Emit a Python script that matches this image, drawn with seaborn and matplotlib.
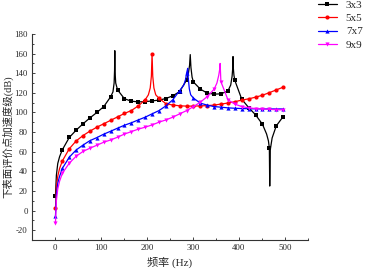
import numpy as np
import pandas as pd
import matplotlib
matplotlib.use("Agg")
import matplotlib.pyplot as plt
import seaborn as sns

sns.set_theme(style="ticks")
plt.rcParams['font.family'] = ['Liberation Serif', 'Noto Sans CJK SC', 'DejaVu Sans']
plt.rcParams['axes.unicode_minus'] = False

# ---- data ----
marker_freq = [1, 16, 31, 46, 61, 76, 91, 106, 121, 136, 151, 166, 181, 196, 211, 226, 241,
               256, 271, 286, 301, 316, 331, 346, 361, 376, 391, 406, 421, 436, 451, 466, 481, 496]

db_3x3 = [15, 62, 74.5, 82, 88.5, 94.5, 100, 106, 116, 123, 114, 111.5, 110.8, 111, 111.8, 112.6, 114.2,
          117, 121.3, 133, 131, 123.8, 119.7, 118.7, 119, 122, 132.6, 113.5, 105, 97.6, 88, 63.6, 86.3, 95.8]
db_5x5 = [2.3, 50.6, 63, 71, 76.5, 81, 85, 88.5, 92, 95.5, 99, 102, 106.7, 112.9, 159.8, 114.5, 109,
          107.6, 106.8, 106.5, 106.5, 106.7, 107, 107.5, 108.6, 109.6, 111, 112.6, 113.9, 115.6, 117.6, 120.2, 123, 125.8]
db_7x7 = [-5.8, 43, 54.4, 61.8, 66.8, 71.3, 74.4, 77.9, 80.9, 84, 87, 89.5, 92.4, 95.2, 98.6, 101.9, 106.7,
          112.9, 122.3, 140, 114.6, 109.5, 107.5, 106, 105.4, 104.7, 104.3, 104, 103.8, 103.7, 103.6, 103.6, 103.6, 103.6]
db_9x9 = [-12.3, 38, 48.3, 55.4, 60.3, 63.6, 66.6, 69.7, 72, 74.8, 78, 80.5, 83, 85, 87.3, 90.1, 92.4,
          95.2, 98.6, 101.9, 106, 110.5, 116.2, 123.8, 131, 112.9, 108.5, 106, 104.7, 104, 103.6, 103.2, 102.8, 102.7]

# extra line-only points (steep rise at low frequency, resonance peaks, anti-resonance)
extra_f_3x3 = [3, 6, 10, 126, 128.5, 129.5, 130, 130.5, 132, 290, 292.5, 294, 295.5, 298,
               382, 385, 386.5, 387, 387.5, 389, 460, 464, 466.8, 468, 472]
extra_db_3x3 = [36, 48, 55, 121, 130, 143, 163, 142, 130, 140, 148, 159, 146, 136,
                128, 137, 146, 157, 146, 138, 78, 71, 25, 62, 74]
extra_f_5x5 = [3, 6, 10, 203, 207, 209.5, 212.5, 215, 219]
extra_db_5x5 = [24, 35, 43, 118, 125, 137, 137, 125, 118]
extra_f_7x7 = [3, 6, 10, 280, 284, 287.5, 288.5, 289.5, 292, 295]
extra_db_7x7 = [16, 28, 35, 128, 134, 143, 145, 136, 124, 118]
extra_f_9x9 = [3, 6, 10, 352, 356, 358, 359, 359.8, 360.4]
extra_db_9x9 = [10, 22, 30, 130, 138, 144, 150, 141, 134]

labels = ['3x3', '5x5', '7x7', '9x9']
colors = ['#000000', '#ff0000', '#0000ff', '#ff00ff']
markers = ['s', 'o', '^', 'v']
series = [(db_3x3, extra_f_3x3, extra_db_3x3), (db_5x5, extra_f_5x5, extra_db_5x5),
          (db_7x7, extra_f_7x7, extra_db_7x7), (db_9x9, extra_f_9x9, extra_db_9x9)]

fig = plt.figure(figsize=(3.66, 2.69), dpi=100)
ax = fig.add_axes([32/366, 1-240/269, (308-32)/366, (240-34)/269])

for (mdb, ef, edb), lab, col, mk in zip(series, labels, colors, markers):
    df = pd.DataFrame({'f': marker_freq + ef, 'db': mdb + edb,
                       'm': [True]*len(marker_freq) + [False]*len(ef)})
    df = df.sort_values('f').reset_index(drop=True)
    idx = list(df.index[df['m']])
    sns.lineplot(data=df, x='f', y='db', ax=ax, color=col, lw=0.9, marker=mk,
                 markersize=3.0, markeredgewidth=0, markevery=idx, label=lab, sort=False,
                 estimator=None)

ax.set_xlim(-50, 550)
ax.set_ylim(-30, 180)
ax.set_xticks([0, 100, 200, 300, 400, 500])
ax.set_xticks(np.arange(-50, 551, 50), minor=True)
ax.set_yticks(np.arange(-20, 181, 20))
ax.set_yticks(np.arange(-30, 181, 10), minor=True)
ax.tick_params(axis='both', which='major', direction='in', length=2.5, width=0.6,
               labelsize=6.3, pad=3)
ax.tick_params(axis='both', which='minor', direction='in', length=1.5, width=0.6)
for s in ['top', 'right']:
    ax.spines[s].set_visible(False)
for s in ['left', 'bottom']:
    ax.spines[s].set_linewidth(0.8)
    ax.spines[s].set_color('#333333')

ax.set_xlabel('频率 (Hz)', fontsize=8, labelpad=3)
ax.set_ylabel('下表面评价点加速度级(dB)', fontsize=7.5, labelpad=1)

leg = ax.legend(loc='upper left', bbox_to_anchor=(318/366, 1-0.5/269),
                bbox_transform=fig.transFigure, frameon=False, fontsize=8,
                borderpad=0, borderaxespad=0, handlelength=1.7, handletextpad=0.8,
                labelspacing=0.3)

fig.savefig('out.png', dpi=100)
